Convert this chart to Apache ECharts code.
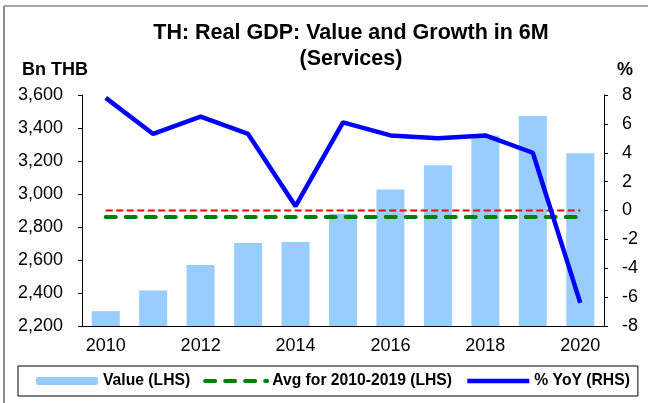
<!DOCTYPE html>
<html>
<head>
<meta charset="utf-8">
<script src="https://cdn.jsdelivr.net/npm/echarts@6/dist/echarts.min.js"></script>
<style>
  html, body { margin: 0; padding: 0; background: #fff; }
  #main { width: 648px; height: 403px; }
</style>
</head>
<body>
<div id="main"></div>
<script>
var years = ['2010', '2011', '2012', '2013', '2014', '2015', '2016', '2017', '2018', '2019', '2020'];
// real GDP, services, Bn THB (LHS)
var values = [2290, 2415, 2570, 2703, 2709, 2880, 3028, 3174, 3355, 3473, 3247];
// % YoY (RHS)
var yoy = [7.8, 5.3, 6.5, 5.3, 0.3, 6.1, 5.2, 5.0, 5.2, 4.0, -6.4];
// avg for 2010-2019
var avgValue = 2860;
var zeroValue = 0;

var font = 'Liberation Sans, Arial, sans-serif';
var myChart = echarts.init(document.getElementById('main'));

var option = {
    backgroundColor: '#fff',
    animation: false,
    textStyle: { fontFamily: font, color: '#000' },
    title: {
        text: 'TH: Real GDP: Value and Growth in 6M\n(Services)',
        left: 346,
        top: 15,
        textAlign: 'center',
        textStyle: { fontFamily: font, fontSize: 21.5, fontWeight: 'bold', color: '#000', lineHeight: 26 }
    },
    graphic: [
        { type: 'line', shape: { x1: 4, y1: 6, x2: 4, y2: 403 }, style: { stroke: '#666', lineWidth: 1.5 } },
        { type: 'line', shape: { x1: 4, y1: 6, x2: 648, y2: 6 }, style: { stroke: '#888', lineWidth: 1.5 } },
        { type: 'text', left: 22, top: 61, style: { text: 'Bn THB', font: 'bold 18px ' + font, fill: '#000' } },
        { type: 'text', left: 617, top: 61, style: { text: '%', font: 'bold 18px ' + font, fill: '#000' } }
    ],
    legend: {
        data: [
            { name: 'Value (LHS)' },
            { name: 'Avg for 2010-2019 (LHS)', itemStyle: { opacity: 0 }, lineStyle: { width: 4, type: [10, 10], cap: 'round' } },
            { name: '% YoY (RHS)', itemStyle: { opacity: 0 }, lineStyle: { width: 4.5 } }
        ],
        left: 18,
        top: 366,
        width: 640,
        padding: [7, 8, 7, 18],
        borderColor: '#000',
        borderWidth: 1,
        itemWidth: 62,
        itemHeight: 8,
        itemGap: 13,
        textStyle: { fontFamily: font, fontSize: 15.7, fontWeight: 'bold', color: '#000' }
    },
    grid: { left: 82, right: 44, top: 95, bottom: 77 },
    xAxis: {
        type: 'category',
        data: years,
        axisLine: { onZero: false, lineStyle: { color: '#000', width: 1 } },
        axisTick: { interval: 0, length: 4, lineStyle: { color: '#000' } },
        axisLabel: { interval: 1, fontSize: 18, color: '#000', margin: 11 }
    },
    yAxis: [
        {
            type: 'value',
            min: 2200,
            max: 3600,
            interval: 200,
            splitLine: { show: false },
            axisLine: { show: true, lineStyle: { color: '#000' } },
            axisTick: { show: true, length: 4, lineStyle: { color: '#000' } },
            axisLabel: {
                fontSize: 18, color: '#000', margin: 19,
                formatter: function (v) { return v.toLocaleString('en-US'); }
            }
        },
        {
            type: 'value',
            min: -8,
            max: 8,
            interval: 2,
            splitLine: { show: false },
            axisLine: { show: true, lineStyle: { color: '#000' } },
            axisTick: { show: true, length: 4, lineStyle: { color: '#000' } },
            axisLabel: { fontSize: 18, color: '#000', margin: 18 }
        }
    ],
    series: [
        {
            name: 'Value (LHS)',
            type: 'bar',
            data: values,
            barWidth: 28,
            itemStyle: { color: '#99CCFF' }
        },
        {
            name: 'zero',
            type: 'line',
            yAxisIndex: 1,
            data: years.map(function () { return zeroValue; }),
            symbol: 'none',
            lineStyle: { color: '#FF0000', width: 2, type: [7, 3.5] }
        },
        {
            name: 'Avg for 2010-2019 (LHS)',
            type: 'line',
            data: years.map(function () { return avgValue; }),
            symbol: 'none',
            lineStyle: { color: '#008000', width: 4, type: [10, 10], cap: 'round' },
            itemStyle: { color: '#008000' }
        },
        {
            name: '% YoY (RHS)',
            type: 'line',
            yAxisIndex: 1,
            data: yoy,
            symbol: 'none',
            lineStyle: { color: '#0000FF', width: 4.5 },
            itemStyle: { color: '#0000FF' }
        }
    ]
};
myChart.setOption(option);
</script>
</body>
</html>
